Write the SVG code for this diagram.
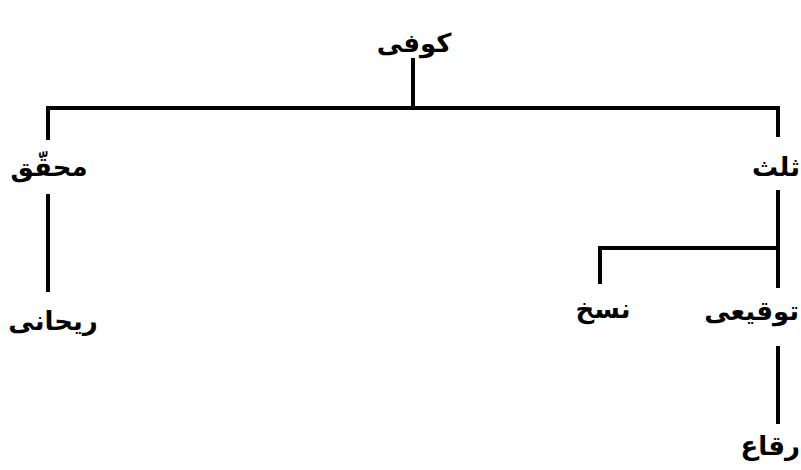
<svg xmlns="http://www.w3.org/2000/svg" width="801" height="470" viewBox="0 0 801 470">
<style>
.t{font-family:"DejaVu Sans",sans-serif;font-weight:bold;font-size:26px;fill:#000}
.c{stroke:#000;stroke-width:4;fill:none;stroke-linecap:square}
</style>
<rect width="801" height="470" fill="#fff"/>
<g id="connectors" class="c">
<path d="M413,60 V108 M48,108 H778 M48,108 V138 M778,108 V135"/>
<path d="M48,196 V290"/>
<path d="M778,192 V286 M778,248 H600 V282"/>
<path d="M778,348 V422"/>
</g>
<g id="kufi"><text class="t" x="414" y="52" text-anchor="middle">کوفی</text></g>
<g id="muhaqqaq"><text class="t" x="49" y="176" text-anchor="middle">محقّق</text></g>
<g id="thuluth"><text class="t" x="800" y="176" text-anchor="end">ثلث</text></g>
<g id="rayhani"><text class="t" x="53" y="330" text-anchor="middle">ریحانی</text></g>
<g id="naskh"><text class="t" x="603" y="318" text-anchor="middle">نسخ</text></g>
<g id="tawqi"><text class="t" x="799" y="320" text-anchor="end">توقیعی</text></g>
<g id="riqa"><text class="t" x="800" y="455" text-anchor="end">رقاع</text></g>
</svg>
